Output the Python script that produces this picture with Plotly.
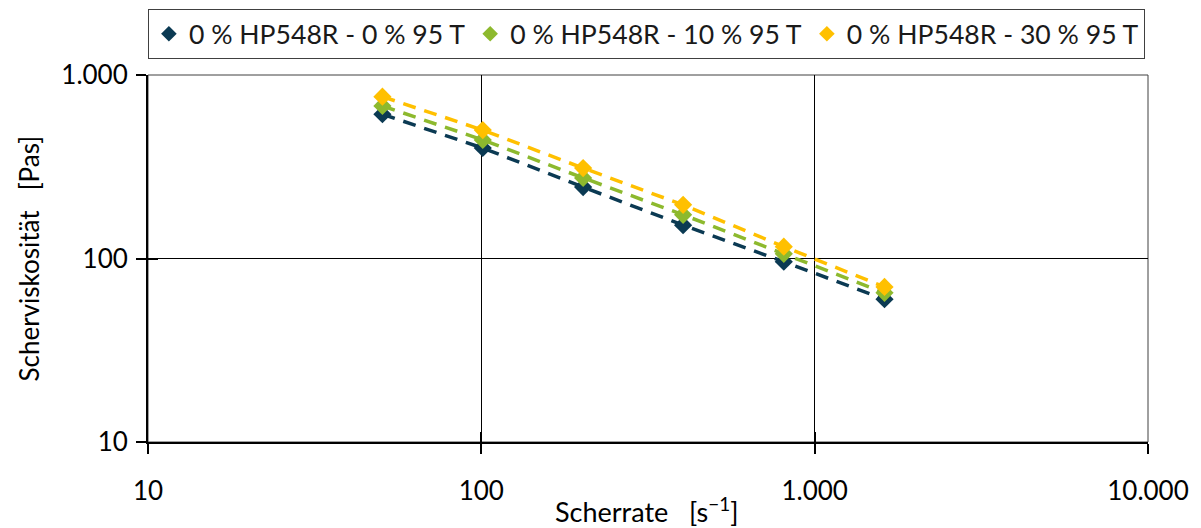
import plotly.graph_objects as go

# ---- data ----
shear_rate = [50.5, 101, 202, 403, 808, 1620]
visc_0 = [611, 400, 245, 152, 96, 60]
visc_10 = [678, 443, 275, 173, 106, 65]
visc_30 = [762, 501, 311, 196, 116, 70]
series_names = ["0 % HP548R - 0 % 95 T", "0 % HP548R - 10 % 95 T", "0 % HP548R - 30 % 95 T"]
series_colors = ["#0B3A53", "#8DB92E", "#FFC000"]
x_tickvals = [10, 100, 1000, 10000]
x_ticktext = ["10", "100", "1.000", "10.000"]
y_tickvals = [10, 100, 1000]
y_ticktext = ["10", "100", "1.000"]
x_title = "Scherrate\u00a0\u00a0\u00a0[s<sup>\u22121</sup>]"
y_title = "Scherviskosit\u00e4t\u00a0\u00a0\u00a0[Pas]"

FONT = "Lato"
series = [visc_0, visc_10, visc_30]

fig = go.Figure()

# dashed lines (below all markers)
for vals, col in zip(series, series_colors):
    fig.add_trace(go.Scatter(x=shear_rate, y=vals, mode="lines",
                             line=dict(color=col, width=3.5, dash="13px,9px"),
                             showlegend=False, hoverinfo="skip"))
# markers
for vals, col, name in zip(series, series_colors, series_names):
    fig.add_trace(go.Scatter(x=shear_rate, y=vals, mode="markers", name=name,
                             marker=dict(symbol="diamond", size=14, color=col),
                             showlegend=False))
# legend entries (small markers)
for col, name in zip(series_colors, series_names):
    fig.add_trace(go.Scatter(x=[None], y=[None], mode="markers", name=name,
                             marker=dict(symbol="diamond", size=12, color=col)))

# invisible trace for overlay axes (inside half of crossing ticks)
fig.add_trace(go.Scatter(x=[None], y=[None], xaxis="x2", yaxis="y2",
                         showlegend=False, hoverinfo="skip"))

axis_common = dict(type="log", showline=True, linecolor="black", linewidth=2,
                   ticks="outside", ticklen=10, tickwidth=2, tickcolor="black",
                   showgrid=True, gridcolor="black", gridwidth=1,
                   zeroline=False, tickfont=dict(family=FONT, size=26, color="black"))

fig.update_layout(
    width=1201, height=528,
    margin=dict(l=148, r=53, t=75, b=86, autoexpand=False),
    paper_bgcolor="white", plot_bgcolor="white",
    font=dict(family=FONT, size=26, color="black"),
    xaxis=dict(axis_common, range=[1, 4], tickvals=x_tickvals, ticktext=x_ticktext,
               ticklabelstandoff=15),
    yaxis=dict(axis_common, range=[1, 3], tickvals=y_tickvals, ticktext=y_ticktext,
               ticklabelstandoff=3),
    xaxis2=dict(type="log", range=[1, 4], overlaying="x", side="bottom", anchor="y2",
                tickvals=x_tickvals, ticks="inside", ticklen=10, tickwidth=2,
                tickcolor="black", showticklabels=False, showgrid=False, showline=False,
                zeroline=False),
    yaxis2=dict(type="log", range=[1, 3], overlaying="y", side="left", anchor="x2",
                tickvals=y_tickvals, ticks="inside", ticklen=10, tickwidth=2,
                tickcolor="black", showticklabels=False, showgrid=False, showline=False,
                zeroline=False),
    legend=dict(orientation="h", x=-0.0001, xanchor="left", y=1.18, yanchor="top",
                bordercolor="#404040", borderwidth=1, bgcolor="white",
                font=dict(family=FONT, size=26.6, color="#1a1a1a"),
                itemwidth=30, tracegroupgap=0),
    shapes=[dict(type="rect", xref="paper", yref="paper", x0=0, x1=1, y0=0, y1=1,
                 line=dict(color="#404040", width=1), layer="below")],
    annotations=[
        dict(text=x_title, xref="paper", yref="paper", x=0.498, y=-0.185,
             xanchor="center", yanchor="middle", showarrow=False,
             font=dict(family=FONT, size=27, color="black")),
        dict(text=y_title, xref="paper", yref="paper", x=-0.12, y=0.5,
             xanchor="center", yanchor="middle", showarrow=False, textangle=-90,
             font=dict(family=FONT, size=26, color="black")),
    ],
)

fig.write_html("out.html")
